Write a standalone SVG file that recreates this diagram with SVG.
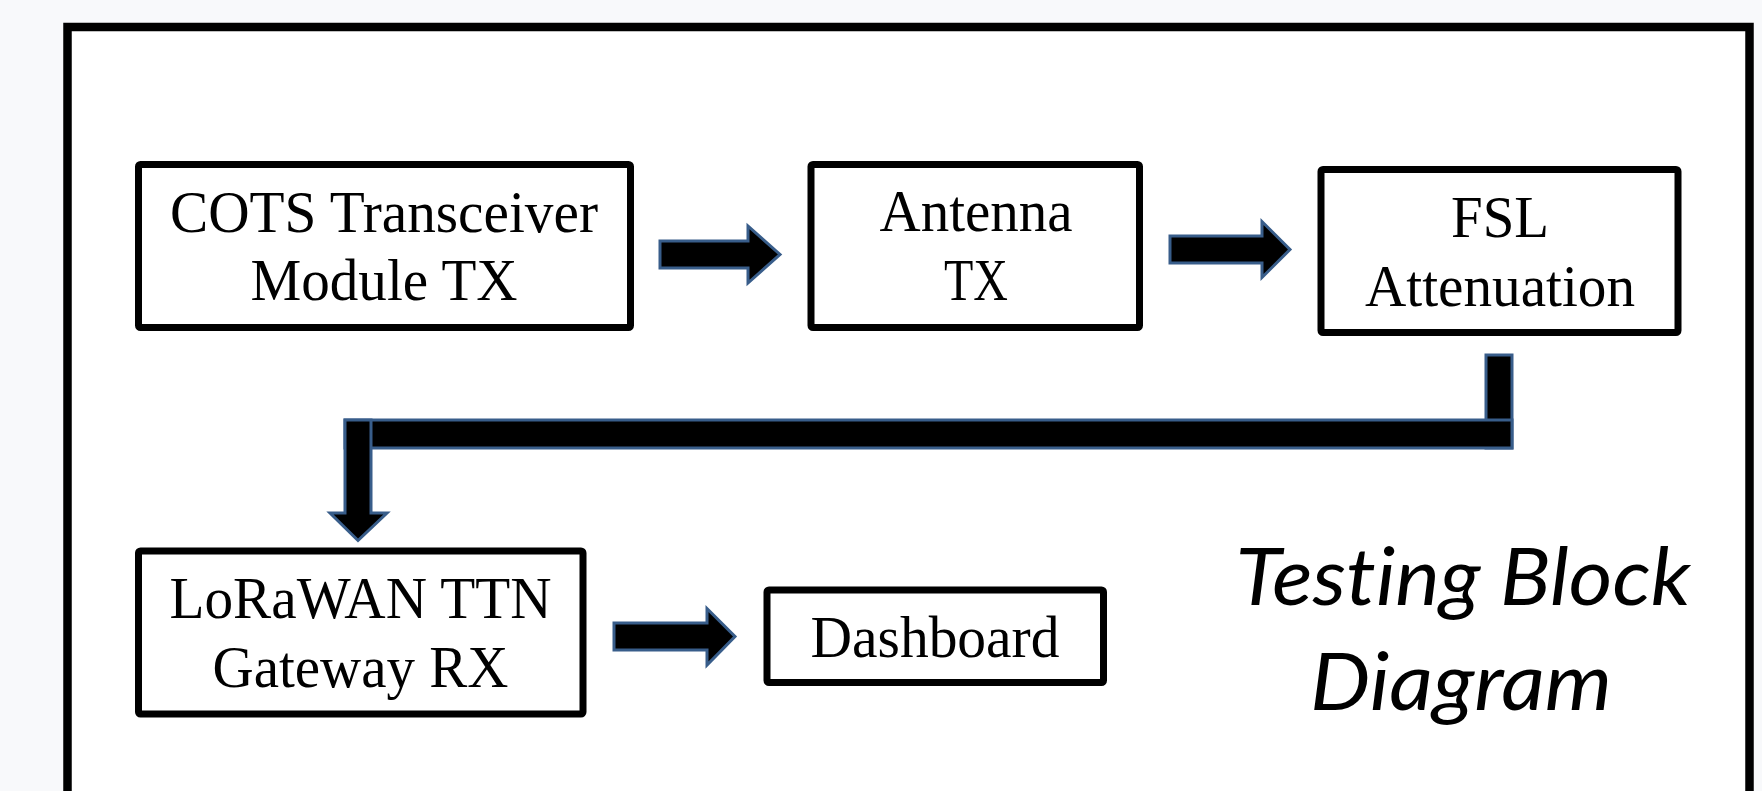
<svg xmlns="http://www.w3.org/2000/svg" width="1762" height="791" viewBox="0 0 1762 791">
  <style>
    .box { fill: #ffffff; stroke: #000000; stroke-width: 7; stroke-linejoin: round; }
    .lbl { font-family: "Liberation Serif", "Times New Roman", serif; font-size: 59px; fill: #000000; text-anchor: middle; }
    .arr { fill: #000000; stroke: #385d8a; stroke-width: 3; stroke-linejoin: miter; }
    .title { font-family: Lato, "Open Sans", sans-serif; font-style: italic; font-size: 80px; fill: #000000; text-anchor: middle; font-variant-ligatures: none; font-feature-settings: "liga" 0; }
  </style>
  <rect x="0" y="0" width="1762" height="791" fill="#f8f9fb"/>
  <rect id="frame" x="67.5" y="27" width="1682" height="800" fill="#ffffff" stroke="#000000" stroke-width="8.5"/>

  <g id="connectors">
    <path id="c1" class="arr" d="M660,241 L748,241 L748,226 L780,254.5 L748,283 L748,268 L660,268 Z"/>
    <path id="c2" class="arr" d="M1170,236 L1262,236 L1262,221.5 L1290,249.5 L1262,277.5 L1262,263 L1170,263 Z"/>
    <rect class="arr" x="1486" y="355" width="26" height="93"/>
    <rect class="arr" x="345" y="420" width="1167" height="28"/>
    <path id="c3" class="arr" d="M345,420 L371,420 L371,513 L387,513 L358,540.5 L330,513 L345,513 Z"/>
    <path id="c4" class="arr" d="M614,623 L707,623 L707,608.5 L735,636.5 L707,665 L707,650 L614,650 Z"/>
  </g>

  <g id="node-cots">
    <rect class="box" x="138.5" y="164.5" width="492" height="163" rx="2"/>
    <text class="lbl" x="384" y="232" textLength="428" lengthAdjust="spacingAndGlyphs">COTS Transceiver</text>
    <text class="lbl" x="384" y="300" textLength="267" lengthAdjust="spacingAndGlyphs">Module TX</text>
  </g>
  <g id="node-antenna">
    <rect class="box" x="811" y="164.5" width="328.5" height="163" rx="2"/>
    <text class="lbl" x="976" y="230.5" textLength="193" lengthAdjust="spacingAndGlyphs">Antenna</text>
    <text class="lbl" x="976" y="300" textLength="64" lengthAdjust="spacingAndGlyphs">TX</text>
  </g>
  <g id="node-fsl">
    <rect class="box" x="1321" y="169.5" width="357" height="163" rx="2"/>
    <text class="lbl" x="1500" y="236.5" textLength="98" lengthAdjust="spacingAndGlyphs">FSL</text>
    <text class="lbl" x="1500" y="305.5" textLength="270" lengthAdjust="spacingAndGlyphs">Attenuation</text>
  </g>
  <g id="node-lorawan">
    <rect class="box" x="138.5" y="551" width="444.5" height="163" rx="2"/>
    <text class="lbl" x="360.5" y="617.5" textLength="382" lengthAdjust="spacingAndGlyphs">LoRaWAN TTN</text>
    <text class="lbl" x="360.5" y="686.5" textLength="296" lengthAdjust="spacingAndGlyphs">Gateway RX</text>
  </g>
  <g id="node-dashboard">
    <rect class="box" x="767" y="590" width="336.5" height="92.5" rx="2"/>
    <text class="lbl" x="935" y="656.5" textLength="249" lengthAdjust="spacingAndGlyphs">Dashboard</text>
  </g>
  <g id="title">
    <text class="title" x="1463" y="605" textLength="455" lengthAdjust="spacingAndGlyphs">Testing Block</text>
    <text class="title" x="1461" y="710" textLength="302" lengthAdjust="spacingAndGlyphs">Diagram</text>
  </g>
</svg>
